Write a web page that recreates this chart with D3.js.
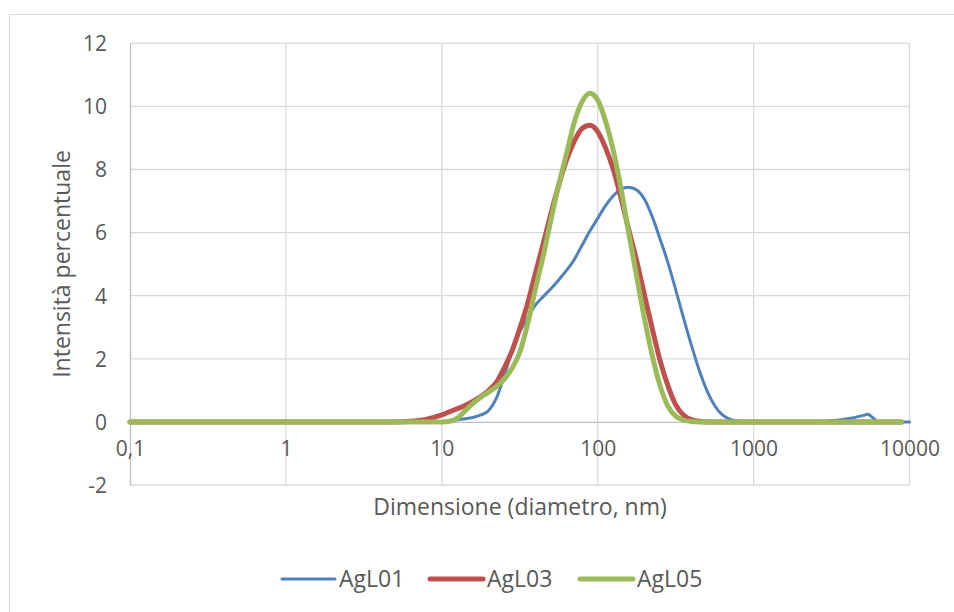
<!DOCTYPE html>
<html>
<head>
<meta charset="utf-8">
<script src="https://cdn.jsdelivr.net/npm/d3@7"></script>
<style>
  html, body { margin: 0; padding: 0; background: #fff; }
  svg { display: block; font-family: "Open Sans", "Noto Sans", sans-serif; }
</style>
</head>
<body>
<svg id="chart" width="954" height="612"></svg>
<script>
// ---- data ----
const sizes = [0.1, 1, 5, 6.3, 7.9,
  10, 11.2, 12.6, 14.1, 15.8, 17.8, 20, 22.4, 25.1, 28.2,
  31.6, 35.5, 39.8, 44.7, 50.1, 56.2, 63.1, 70.8, 79.4, 89.1,
  100, 112, 126, 141, 158, 178, 200, 224, 251, 282,
  316, 355, 398, 447, 501, 562, 631, 708, 794, 891, 1000,
  2500, 3200, 4000, 5000, 5400, 5800, 6300, 8900, 10000];

const agL01 = [0, 0, 0, 0, 0,
  0, 0.03, 0.07, 0.10, 0.14, 0.22, 0.36, 0.75, 1.45, 2.25,
  2.85, 3.3, 3.7, 3.97, 4.22, 4.5, 4.8, 5.15, 5.6, 6.05,
  6.45, 6.85, 7.17, 7.38, 7.44, 7.35, 7.05, 6.5, 5.8, 5.05,
  4.2, 3.3, 2.45, 1.65, 1.0, 0.52, 0.22, 0.08, 0.02, 0, 0,
  0, 0.04, 0.1, 0.2, 0.24, 0.14, 0, 0, 0];

const agL03 = [0, 0, 0, 0.02, 0.08,
  0.22, 0.32, 0.42, 0.52, 0.65, 0.8, 1.0, 1.25, 1.7, 2.25,
  2.95, 3.75, 4.7, 5.65, 6.6, 7.5, 8.3, 8.9, 9.3, 9.4,
  9.2, 8.7, 8.0, 7.1, 6.1, 5.1, 4.0, 2.95, 1.95, 1.15,
  0.55, 0.22, 0.07, 0.02, 0, 0, 0, 0, 0, 0, 0,
  0, 0, 0, 0, 0, 0, 0, 0, null];

const agL05 = [0, 0, 0, 0, 0,
  0, 0.02, 0.12, 0.35, 0.58, 0.78, 0.95, 1.12, 1.35, 1.7,
  2.2, 3.1, 4.2, 5.25, 6.4, 7.5, 8.5, 9.5, 10.15, 10.42,
  10.2, 9.55, 8.6, 7.4, 6.0, 4.6, 3.25, 2.1, 1.15, 0.5,
  0.18, 0.06, 0.01, 0, 0, 0, 0, 0, 0, 0, 0,
  0, 0, 0, 0, 0, 0, 0, 0, null];

const seriesNames = ["AgL01", "AgL03", "AgL05"];
const seriesColors = ["#4F81BD", "#C0504D", "#9BBB59"];
const seriesWidths = [3, 5, 5];

const xTickValues = [0.1, 1, 10, 100, 1000, 10000];
const xTickLabels = ["0,1", "1", "10", "100", "1000", "10000"];
const yTickValues = [-2, 0, 2, 4, 6, 8, 10, 12];
const yTickLabels = ["-2", "0", "2", "4", "6", "8", "10", "12"];

const xTitle = "Dimensione (diametro, nm)";
const yTitle = "Intensità percentuale";

// ---- drawing ----
const svg = d3.select("#chart");
const textColor = "#595959";
const gridColor = "#D9D9D9";
const axisColor = "#BFBFBF";

// chart border
svg.append("rect")
  .attr("x", 9.5).attr("y", 14.5)
  .attr("width", 1000).attr("height", 700)
  .attr("fill", "#fff").attr("stroke", gridColor).attr("stroke-width", 1);

const x = d3.scaleLog().domain([0.1, 10000]).range([130, 909.5]);
const y = d3.scaleLinear().domain([-2, 12]).range([485, 43.3]);

// horizontal gridlines
svg.append("g").selectAll("line")
  .data(yTickValues.filter(v => v !== 0))
  .join("line")
  .attr("x1", x(0.1)).attr("x2", x(10000))
  .attr("y1", d => y(d)).attr("y2", d => y(d))
  .attr("stroke", gridColor).attr("stroke-width", 1.3);

// vertical gridlines
svg.append("g").selectAll("line")
  .data(xTickValues.slice(1))
  .join("line")
  .attr("x1", d => x(d)).attr("x2", d => x(d))
  .attr("y1", y(12)).attr("y2", y(-2))
  .attr("stroke", gridColor).attr("stroke-width", 1.3);

// y axis (left)
const yAxis = d3.axisLeft(y)
  .tickValues(yTickValues)
  .tickFormat((d, i) => yTickLabels[i])
  .tickSize(0).tickPadding(23);
const gy = svg.append("g").attr("transform", `translate(${x(0.1)},0)`).call(yAxis);
gy.select(".domain").attr("stroke", axisColor).attr("stroke-width", 1.3);
gy.selectAll("text").attr("fill", textColor).style("font-size", "21px")
  .style("font-family", "'Open Sans', sans-serif").attr("dy", "0.35em");

// x axis at y = 0
const xAxis = d3.axisBottom(x)
  .tickValues(xTickValues)
  .tickFormat((d, i) => xTickLabels[i])
  .tickSize(0).tickPadding(19);
const gx = svg.append("g").attr("transform", `translate(0,${y(0)})`).call(xAxis);
gx.select(".domain").attr("stroke", axisColor).attr("stroke-width", 1.3);
gx.selectAll("text").attr("fill", textColor).style("font-size", "21px")
  .style("font-family", "'Open Sans', sans-serif");

// lines
const allSeries = [agL01, agL03, agL05];
const line = d3.line()
  .defined(d => d.v !== null)
  .x(d => x(d.s))
  .y(d => y(d.v))
  .curve(d3.curveMonotoneX);

allSeries.forEach((vals, i) => {
  const pts = sizes.map((s, k) => ({ s: s, v: vals[k] }));
  svg.append("path")
    .datum(pts)
    .attr("d", line)
    .attr("fill", "none")
    .attr("stroke", seriesColors[i])
    .attr("stroke-width", seriesWidths[i])
    .attr("stroke-linecap", "round")
    .attr("stroke-linejoin", "round");
});

// axis titles
svg.append("text")
  .attr("x", 520).attr("y", 507).attr("dy", "0.35em")
  .attr("text-anchor", "middle")
  .attr("fill", textColor)
  .style("font-size", "23px")
  .text(xTitle);

svg.append("text")
  .attr("transform", "translate(62,264) rotate(-90)")
  .attr("dy", "0.35em")
  .attr("text-anchor", "middle")
  .attr("fill", textColor)
  .style("font-size", "23px")
  .text(yTitle);

// legend
const legendX = [282, 430, 580];
const lg = svg.append("g");
seriesNames.forEach((name, i) => {
  lg.append("line")
    .attr("x1", legendX[i]).attr("x2", legendX[i] + 53)
    .attr("y1", 579).attr("y2", 579)
    .attr("stroke", seriesColors[i])
    .attr("stroke-width", seriesWidths[i])
    .attr("stroke-linecap", "round");
  lg.append("text")
    .attr("x", legendX[i] + 57).attr("y", 579).attr("dy", "0.35em")
    .attr("fill", textColor)
    .style("font-size", "23px")
    .text(name);
});
</script>
</body>
</html>
